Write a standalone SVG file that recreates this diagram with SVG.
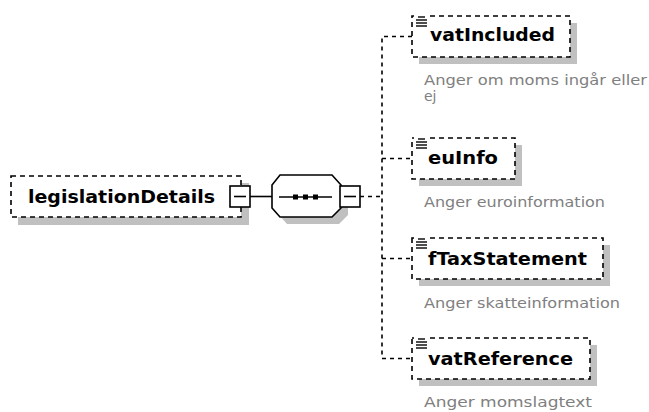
<svg xmlns="http://www.w3.org/2000/svg" width="649" height="412" viewBox="0 0 649 412">
<style>
.shadow{fill:#c0c0c0;stroke:none}
.box{fill:#fff;stroke:#000;stroke-width:1.6;stroke-dasharray:5,4}
.solid{fill:#fff;stroke:#000;stroke-width:1.6}
.line{fill:none;stroke:#000;stroke-width:1.6}
.dash{fill:none;stroke:#000;stroke-width:1.6;stroke-dasharray:4,4}
.name{font-family:"DejaVu Sans",sans-serif;font-weight:bold;font-size:17px;fill:#000}
.desc{font-family:"DejaVu Sans",sans-serif;font-size:14px;fill:#808080}
.icon{stroke:#000;stroke-width:1.4}
</style>
<rect width="649" height="412" fill="#fff"/>
<g id="connectors">
<line class="line" x1="250" y1="196.5" x2="272" y2="196.5"/>
<line class="dash" x1="360" y1="196.5" x2="382" y2="196.5"/>
<polyline class="dash" points="412,36.5 382,36.5 382,358.5 412,358.5"/>
<line class="dash" x1="382" y1="158.5" x2="412" y2="158.5"/>
<line class="dash" x1="382" y1="258.5" x2="412" y2="258.5"/>
</g>
<g id="legislationDetails">
<rect class="shadow" x="18" y="183" width="231" height="42"/>
<rect class="box" x="11" y="176" width="230" height="41"/>
<text class="name" x="28" y="203" textLength="187" lengthAdjust="spacingAndGlyphs">legislationDetails</text>
<rect class="solid" x="230" y="186" width="20" height="21"/>
<line class="line" x1="234" y1="196.5" x2="246" y2="196.5"/>
</g>
<g id="sequence">
<polygon class="shadow" points="287,182 339,182 348,192 348,215 339,224 287,224 279,215 279,192"/>
<polygon class="solid" points="280,175 332,175 341,185 341,208 332,217 280,217 272,208 272,185"/>
<line class="line" x1="279" y1="197" x2="332" y2="197"/>
<rect x="293" y="194.5" width="5" height="5" fill="#000"/>
<rect x="303" y="194.5" width="5" height="5" fill="#000"/>
<rect x="313" y="194.5" width="5" height="5" fill="#000"/>
<rect class="solid" x="340" y="186" width="20" height="21"/>
<line class="line" x1="344" y1="196.5" x2="356" y2="196.5"/>
</g>
<g id="vatIncluded">
<rect class="shadow" x="419" y="23" width="158" height="41"/>
<rect class="box" x="412" y="16" width="158" height="41"/>
<rect x="414" y="14" width="15" height="13" fill="#fff"/>
<line class="icon" x1="418" y1="17" x2="425" y2="17"/>
<line class="icon" x1="416" y1="20" x2="427" y2="20"/>
<line class="icon" x1="416" y1="23" x2="427" y2="23"/>
<line class="icon" x1="416" y1="26" x2="427" y2="26"/>
<text class="name" x="430" y="41" textLength="125" lengthAdjust="spacingAndGlyphs">vatIncluded</text>
<text class="desc" x="424" y="85" textLength="223" lengthAdjust="spacingAndGlyphs">Anger om moms ingår eller</text>
<text class="desc" x="424" y="101">ej</text>
</g>
<g id="euInfo">
<rect class="shadow" x="419" y="145" width="103" height="41"/>
<rect class="box" x="412" y="138" width="103" height="41"/>
<rect x="414" y="136" width="15" height="13" fill="#fff"/>
<line class="icon" x1="418" y1="139" x2="425" y2="139"/>
<line class="icon" x1="416" y1="142" x2="427" y2="142"/>
<line class="icon" x1="416" y1="145" x2="427" y2="145"/>
<line class="icon" x1="416" y1="148" x2="427" y2="148"/>
<text class="name" x="428" y="164" textLength="70" lengthAdjust="spacingAndGlyphs">euInfo</text>
<text class="desc" x="424" y="207" textLength="181" lengthAdjust="spacingAndGlyphs">Anger euroinformation</text>
</g>
<g id="fTaxStatement">
<rect class="shadow" x="419" y="245" width="191" height="41"/>
<rect class="box" x="412" y="238" width="191" height="41"/>
<rect x="414" y="236" width="15" height="13" fill="#fff"/>
<line class="icon" x1="418" y1="239" x2="425" y2="239"/>
<line class="icon" x1="416" y1="242" x2="427" y2="242"/>
<line class="icon" x1="416" y1="245" x2="427" y2="245"/>
<line class="icon" x1="416" y1="248" x2="427" y2="248"/>
<text class="name" x="428" y="265" textLength="159" lengthAdjust="spacingAndGlyphs">fTaxStatement</text>
<text class="desc" x="424" y="308" textLength="196" lengthAdjust="spacingAndGlyphs">Anger skatteinformation</text>
</g>
<g id="vatReference">
<rect class="shadow" x="419" y="345" width="178" height="41"/>
<rect class="box" x="412" y="338" width="178" height="41"/>
<rect x="414" y="336" width="15" height="13" fill="#fff"/>
<line class="icon" x1="418" y1="339" x2="425" y2="339"/>
<line class="icon" x1="416" y1="342" x2="427" y2="342"/>
<line class="icon" x1="416" y1="345" x2="427" y2="345"/>
<line class="icon" x1="416" y1="348" x2="427" y2="348"/>
<text class="name" x="428" y="365" textLength="145" lengthAdjust="spacingAndGlyphs">vatReference</text>
<text class="desc" x="424" y="407" textLength="168" lengthAdjust="spacingAndGlyphs">Anger momslagtext</text>
</g>
</svg>
